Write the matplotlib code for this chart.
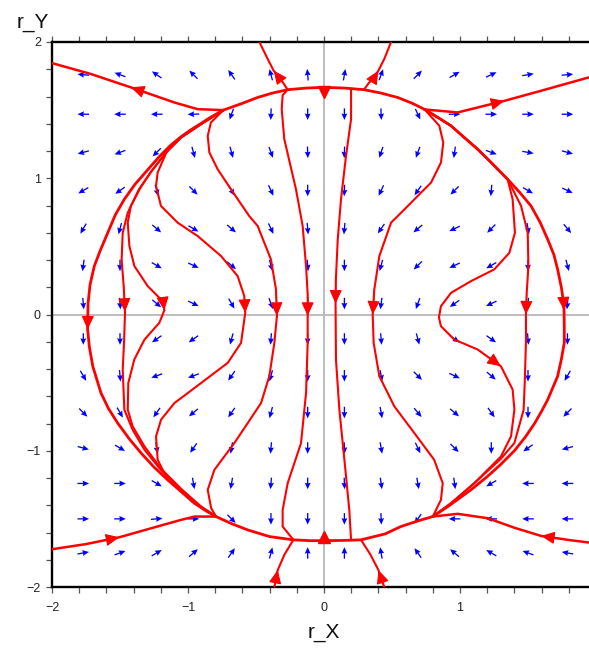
import numpy as np
import matplotlib
matplotlib.use("Agg")
import matplotlib.pyplot as plt
from matplotlib.ticker import MultipleLocator

plt.rcParams['font.family'] = ['Liberation Sans', 'DejaVu Sans']

# ---------------- direction field ----------------
arrow_x = [-1.77, -1.50, -1.23, -0.96, -0.68, -0.39, -0.12, 0.15, 0.42, 0.69, 0.96, 1.23, 1.50, 1.79]
arrow_y = [1.76, 1.47, 1.19, 0.91, 0.63, 0.36, 0.08, -0.18, -0.45, -0.72, -0.98, -1.24, -1.50, -1.75]
# arrow directions in degrees (0 = right, 90 = up), rows top -> bottom, columns left -> right
arrow_angle_deg = [
    [175, 160, 145, 135, 125, 105, 95, 80, 70, 45, 30, 25, 10, 5],
    [180, 180, 180, 182, 250, 268, 270, 270, 272, 295, 0, 0, 0, 0],
    [195, 200, 225, 285, 285, 290, 272, 268, 252, 250, 262, 340, 350, 345],
    [210, 215, 285, 315, 300, 295, 270, 268, 245, 235, 225, 265, 330, 335],
    [240, 255, 320, 330, 320, 295, 275, 265, 235, 220, 205, 225, 280, 310],
    [262, 270, 330, 335, 320, 285, 275, 270, 255, 225, 205, 210, 270, 285],
    [275, 275, 320, 335, 300, 290, 270, 270, 262, 250, 215, 205, 265, 265],
    [270, 270, 215, 215, 255, 265, 270, 270, 275, 285, 325, 325, 275, 270],
    [300, 275, 200, 200, 235, 255, 270, 270, 280, 315, 335, 320, 270, 240],
    [315, 300, 235, 220, 235, 255, 270, 270, 280, 310, 320, 305, 270, 225],
    [345, 330, 280, 235, 260, 265, 270, 272, 280, 295, 315, 270, 215, 195],
    [0, 0, 330, 280, 260, 265, 270, 272, 278, 280, 278, 210, 180, 180],
    [0, 0, 5, 0, 315, 270, 270, 270, 272, 235, 180, 180, 180, 180],
    [10, 20, 30, 40, 55, 75, 90, 90, 100, 125, 140, 150, 160, 170],
]

# ---------------- trajectories ----------------
ellipse_top = [(-0.74, 1.50), (-0.60, 1.55), (-0.488, 1.593), (-0.38, 1.625), (-0.267, 1.650),
               (-0.13, 1.662), (0.0, 1.667), (0.15, 1.662), (0.294, 1.650), (0.42, 1.625),
               (0.541, 1.593), (0.65, 1.55), (0.74, 1.505)]
ellipse_left = [(-0.74, 1.50), (-0.83, 1.45), (-0.90, 1.405), (-0.98, 1.355), (-1.051, 1.305),
                (-1.13, 1.24), (-1.21, 1.16), (-1.296, 1.0625), (-1.39, 0.955), (-1.468, 0.846),
                (-1.535, 0.73), (-1.59, 0.60), (-1.645, 0.47), (-1.689, 0.355), (-1.72, 0.22),
                (-1.735, 0.08), (-1.738, -0.11), (-1.725, -0.24), (-1.70, -0.38), (-1.64, -0.576),
                (-1.585, -0.69), (-1.517, -0.797), (-1.43, -0.915), (-1.345, -1.017), (-1.25, -1.12),
                (-1.15, -1.213), (-1.05, -1.30), (-0.953, -1.385), (-0.87, -1.44), (-0.794, -1.483)]
ellipse_right = [(0.74, 1.505), (0.84, 1.445), (0.934, 1.385), (1.03, 1.30), (1.13, 1.213),
                 (1.22, 1.125), (1.301, 1.042), (1.35, 0.993), (1.44, 0.895), (1.522, 0.797),
                 (1.59, 0.675), (1.645, 0.551), (1.69, 0.44), (1.718, 0.331), (1.745, 0.2),
                 (1.762, 0.086), (1.765, 0.03), (1.767, -0.10), (1.767, -0.208), (1.745, -0.33),
                 (1.718, -0.453), (1.645, -0.625), (1.60, -0.71), (1.55, -0.797), (1.48, -0.90),
                 (1.40, -1.0), (1.30, -1.10), (1.20, -1.19), (1.08, -1.287), (0.91, -1.41),
                 (0.80, -1.483)]
ellipse_bottom = [(-0.794, -1.483), (-0.68, -1.535), (-0.561, -1.581), (-0.40, -1.63), (-0.225, -1.654),
                  (-0.10, -1.66), (0.0, -1.66), (0.15, -1.658), (0.272, -1.654), (0.45, -1.61),
                  (0.566, -1.556), (0.69, -1.515), (0.80, -1.483)]

outer_top_left = [(-0.74, 1.50), (-0.929, 1.507), (-1.10, 1.556), (-1.42, 1.667), (-1.713, 1.765), (-2.0, 1.845)]
outer_top_right = [(0.74, 1.505), (0.983, 1.483), (1.326, 1.568), (1.596, 1.642), (2.0, 1.755)]
outer_bottom_left = [(-2.0, -1.723), (-1.75, -1.685), (-1.505, -1.635), (-1.225, -1.556), (-1.05, -1.507),
                     (-0.953, -1.483), (-0.794, -1.483)]
outer_bottom_right = [(2.0, -1.68), (1.80, -1.655), (1.596, -1.625), (1.40, -1.565), (1.203, -1.495),
                      (0.983, -1.463), (0.80, -1.483)]

up_top_left = [(-0.267, 1.650), (-0.30, 1.70), (-0.341, 1.752), (-0.37, 1.79), (-0.414, 1.875), (-0.475, 2.0)]
up_top_right = [(0.294, 1.650), (0.33, 1.70), (0.37, 1.74), (0.40, 1.79), (0.443, 1.875), (0.493, 2.0)]
up_bottom_left = [(-0.365, -2.0), (-0.34, -1.875), (-0.29, -1.76), (-0.225, -1.654)]
up_bottom_right = [(0.443, -2.0), (0.40, -1.875), (0.34, -1.76), (0.272, -1.654)]

center_left = [(-0.267, 1.650), (-0.304, 1.61), (-0.311, 1.507), (-0.292, 1.287), (-0.206, 0.919),
               (-0.157, 0.65), (-0.132, 0.355), (-0.12, 0.15), (-0.12, -0.01), (-0.12, -0.208),
               (-0.132, -0.576), (-0.169, -0.944), (-0.267, -1.238), (-0.304, -1.434), (-0.304, -1.556),
               (-0.225, -1.654)]
center_right = [(0.199, 1.652), (0.199, 1.434), (0.162, 1.165), (0.125, 0.846), (0.101, 0.551),
                (0.087, 0.25), (0.085, 0.08), (0.088, -0.331), (0.113, -0.699), (0.15, -1.066),
                (0.186, -1.434), (0.199, -1.654)]

inner_a_left = [(-0.74, 1.50), (-0.831, 1.41), (-0.855, 1.311), (-0.843, 1.189), (-0.782, 1.066),
                (-0.684, 0.919), (-0.55, 0.723), (-0.488, 0.65), (-0.39, 0.404), (-0.353, 0.184),
                (-0.346, -0.01), (-0.365, -0.208), (-0.402, -0.453), (-0.463, -0.65), (-0.561, -0.797),
                (-0.659, -0.943), (-0.806, -1.14), (-0.855, -1.287), (-0.83, -1.42), (-0.794, -1.483)]
inner_b_left = [(-0.74, 1.50), (-0.90, 1.40), (-1.05, 1.30), (-1.149, 1.213), (-1.223, 1.042),
                (-1.235, 0.944), (-1.199, 0.797), (-1.076, 0.674), (-0.929, 0.576), (-0.757, 0.429),
                (-0.635, 0.282), (-0.586, 0.135), (-0.579, 0.012), (-0.61, -0.208), (-0.708, -0.355),
                (-0.904, -0.503), (-1.10, -0.65), (-1.198, -0.772), (-1.235, -0.894), (-1.223, -1.066),
                (-1.15, -1.213), (-0.953, -1.385), (-0.794, -1.483)]
inner_c_left = [(-0.74, 1.50), (-0.90, 1.40), (-1.05, 1.30), (-1.16, 1.19), (-1.27, 1.05), (-1.35, 0.93),
                (-1.42, 0.797), (-1.443, 0.674), (-1.431, 0.502), (-1.394, 0.355), (-1.296, 0.208),
                (-1.198, 0.11), (-1.18, 0.075), (-1.174, 0.03), (-1.211, -0.061), (-1.32, -0.184),
                (-1.395, -0.331), (-1.439, -0.503), (-1.443, -0.699), (-1.407, -0.821), (-1.32, -0.968),
                (-1.2, -1.13), (-1.05, -1.28), (-0.904, -1.41), (-0.794, -1.483)]
inner_d_left = [(-0.74, 1.50), (-0.90, 1.40), (-1.05, 1.30), (-1.16, 1.19), (-1.27, 1.05), (-1.36, 0.92),
                (-1.443, 0.747), (-1.48, 0.60), (-1.488, 0.404), (-1.473, 0.208), (-1.463, 0.02),
                (-1.47, -0.2), (-1.48, -0.404), (-1.468, -0.699), (-1.407, -0.846), (-1.32, -0.993),
                (-1.2, -1.14), (-1.05, -1.287), (-0.904, -1.41), (-0.794, -1.483)]
inner_a_right = [(0.74, 1.505), (0.848, 1.385), (0.877, 1.262), (0.86, 1.115), (0.787, 0.968),
                 (0.689, 0.870), (0.60, 0.78), (0.493, 0.674), (0.407, 0.429), (0.37, 0.184),
                 (0.358, 0.0), (0.365, -0.208), (0.407, -0.453), (0.517, -0.674), (0.664, -0.87),
                 (0.81, -1.066), (0.873, -1.238), (0.86, -1.36), (0.80, -1.483)]
inner_b_right = [(0.74, 1.505), (0.934, 1.385), (1.13, 1.213), (1.301, 1.042), (1.35, 0.993),
                 (1.387, 0.846), (1.404, 0.600), (1.363, 0.453), (1.252, 0.331), (1.081, 0.245),
                 (0.934, 0.159), (0.860, 0.061), (0.845, -0.02), (0.86, -0.086), (0.958, -0.184),
                 (1.13, -0.257), (1.301, -0.38), (1.387, -0.551), (1.40, -0.699), (1.375, -0.895),
                 (1.301, -1.042), (1.105, -1.238), (0.934, -1.385), (0.80, -1.483)]
inner_d_right = [(0.74, 1.505), (0.934, 1.385), (1.13, 1.213), (1.301, 1.042), (1.35, 0.993),
                 (1.449, 0.797), (1.498, 0.600), (1.503, 0.355), (1.49, 0.15), (1.485, 0.0),
                 (1.485, -0.2), (1.476, -0.5), (1.468, -0.699), (1.40, -0.943), (1.30, -1.06),
                 (1.105, -1.238), (0.934, -1.385), (0.80, -1.483)]

# arrow-only marks at the two poles of the closed curve
pole_top = (0.0, 1.635)
pole_bottom = (0.0, -1.635)

# ---------------- figure ----------------
W, H = 589, 649
fig = plt.figure(figsize=(W / 100, H / 100), dpi=100)
ax = fig.add_axes([52 / W, (H - 587) / H, 544 / W, 545 / H])
ax.set_xlim(-2, 2)
ax.set_ylim(-2, 2)

ax.axhline(0, color='#b8b8b8', lw=1.3, zorder=0.5)
ax.axvline(0, color='#b8b8b8', lw=1.3, zorder=0.5)

# direction field
XX, YY = np.meshgrid(arrow_x, arrow_y)
ang = np.deg2rad(np.array(arrow_angle_deg, dtype=float))
L = 0.085
ax.quiver(XX, YY, L * np.cos(ang), L * np.sin(ang), angles='xy', scale_units='xy', scale=1,
          pivot='middle', color='#0000ff', width=0.0024, headwidth=4.5, headlength=5,
          headaxislength=4.5, zorder=2)

red = '#ff0000'

def draw(curve, tip=None, lw=1.5):
    xs = [p[0] for p in curve]
    ys = [p[1] for p in curve]
    ax.plot(xs, ys, color=red, lw=lw, solid_joinstyle='round', solid_capstyle='round', zorder=3)
    if tip is not None:
        ax.annotate('', xy=curve[tip], xytext=curve[tip - 1],
                    arrowprops=dict(arrowstyle='-|>,head_length=0.7,head_width=0.32', color=red,
                                    lw=0.8, mutation_scale=12, shrinkA=0, shrinkB=0), zorder=4)

draw(ellipse_top, lw=2.0)
draw(ellipse_left, 16, lw=2.0)
draw(ellipse_right, 16, lw=2.0)
draw(ellipse_bottom, lw=2.0)
draw(outer_top_left, 3, lw=1.8)
draw(outer_top_right, 2, lw=1.8)
draw(outer_bottom_left, 2, lw=1.8)
draw(outer_bottom_right, 2, lw=1.8)
draw(up_top_left, 3)
draw(up_top_right, 3)
draw(up_bottom_left, 1)
draw(up_bottom_right, 1)
draw(center_left, 8)
draw(center_right, 6)
draw(inner_a_left, 10)
draw(inner_b_left, 12)
draw(inner_c_left, 13)
draw(inner_d_left, 10)
draw(inner_a_right, 10)
draw(inner_b_right, 16)
draw(inner_d_right, 9)

ax.plot(*pole_top, marker='v', ms=8, color=red, zorder=5)
ax.plot(*pole_bottom, marker='^', ms=8, color=red, zorder=5)

# axes styling
for side in ['left', 'bottom', 'top', 'right']:
    ax.spines[side].set_linewidth(1.7)
    ax.spines[side].set_color('black')
ax.xaxis.set_major_locator(MultipleLocator(1))
ax.yaxis.set_major_locator(MultipleLocator(1))
ax.xaxis.set_minor_locator(MultipleLocator(0.2))
ax.yaxis.set_minor_locator(MultipleLocator(0.2))
ax.tick_params(which='both', direction='out', length=4, width=0.9, color='#555555',
               top=True, right=False, labelsize=9, labelcolor='#222222')
ax.tick_params(axis='x', which='major', pad=7)
ax.tick_params(axis='y', which='major', pad=4)
ax.set_xticks([-2, -1, 0, 1])
ax.set_yticks([-2, -1, 0, 1, 2])

fig.text(324 / W, 1 - 633 / H, 'r_X', fontsize=15, ha='center', va='center', color='#111111')
fig.text(33 / W, 1 - 22 / H, 'r_Y', fontsize=15, ha='center', va='center', color='#111111')

fig.savefig('out.png', dpi=100)
